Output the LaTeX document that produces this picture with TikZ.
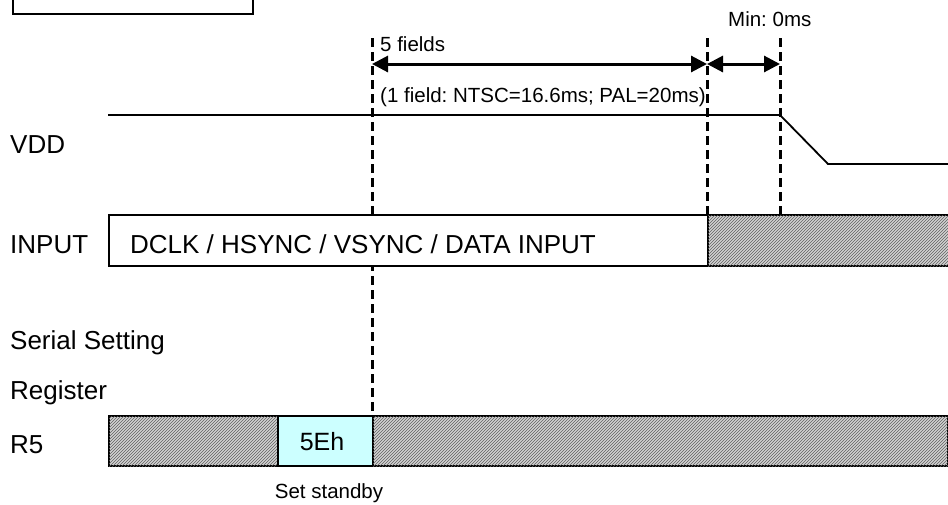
\documentclass[tikz,border=0pt]{standalone}
\usepackage{fontspec}
\setmainfont{Liberation Sans}
\usetikzlibrary{arrows.meta,patterns}
\definecolor{regcyan}{HTML}{CCFFFF}
\begin{document}
\frenchspacing
\begin{tikzpicture}[x=1pt,y=-1pt,
  lbl/.style={anchor=base west,inner sep=0pt,font=\fontsize{26}{30}\selectfont},
  small/.style={anchor=base west,inner sep=0pt,font=\fontsize{20.5}{24}\selectfont},
  guide/.style={line width=3pt,dash pattern=on 9pt off 5pt},
  box/.style={draw,line width=2pt},
  hatch/.style={box,fill=gray!35,postaction={pattern=north east lines,pattern color=gray!75!black}},
  dim/.style={line width=3pt,{Triangle[length=16pt,width=16pt]}-{Triangle[length=16pt,width=16pt]}}]
\useasboundingbox (0,0) rectangle (948,504);
\clip (0,0) rectangle (948,504);
% top-left box (cut off)
\draw[line width=2pt] (13,-10) rectangle (253,14);
% guide coordinates
\coordinate (g1t) at (372,38);
\coordinate (g2t) at (707,38);
\coordinate (g3t) at (780,38);
\coordinate (g1b) at (372,415);
\coordinate (g2b) at (707,214);
\coordinate (g3b) at (780,214);
% dashed guides
\draw[guide] (g1t) -- (g1b);
\draw[guide] (g2t) -- (g2b);
\draw[guide] (g3t) -- (g3b);
% signal rows
\draw[line width=1.8pt] (108,115) -- (780,115) -- (828,164) -- (950,164);
\node[box,fill=white,minimum width=599pt,minimum height=51pt,anchor=north west,inner sep=0pt] (inwhite) at (108,214) {};
\node[hatch,minimum width=241pt,minimum height=51pt,anchor=north west,inner sep=0pt] (inhatch) at (707,214) {};
\node[hatch,minimum width=169pt,minimum height=50pt,anchor=north west,inner sep=0pt] (r5a) at (108,415) {};
\node[box,fill=regcyan,minimum width=95pt,minimum height=50pt,anchor=north west,inner sep=0pt] (r5b) at (277,415) {};
\node[hatch,minimum width=575pt,minimum height=50pt,anchor=north west,inner sep=0pt] (r5c) at (372,415) {};
% dimension arrows
\coordinate (a1) at (372,64);
\coordinate (a2) at (707,64);
\coordinate (a3) at (780,64);
\draw[dim] (a1) -- (a2);
\draw[dim] (a2) -- (a3);
% labels
\node[small] (fields) at (380,51) {5 fields};
\node[small] (fieldnote) at (380,102) {(1 field: NTSC=16.6ms; PAL=20ms)};
\node[small] (minlbl) at (728,26) {Min: 0ms};
\node[lbl] (vdd) at (10,153) {VDD};
\node[lbl] (input) at (10,253) {INPUT};
\node[lbl] (intext) at (130,253) {DCLK / HSYNC / VSYNC / DATA INPUT};
\node[lbl] (serial) at (10,349) {Serial Setting};
\node[lbl] (register) at (10,399) {Register};
\node[lbl] (r5) at (10,453) {R5};
\node[anchor=base,inner sep=0pt,font=\fontsize{25}{30}\selectfont] (regval) at (322,450) {5Eh};
\node[anchor=base,inner sep=0pt,font=\fontsize{20.5}{24}\selectfont] (standby) at (329,498) {Set standby};
\end{tikzpicture}
\end{document}
